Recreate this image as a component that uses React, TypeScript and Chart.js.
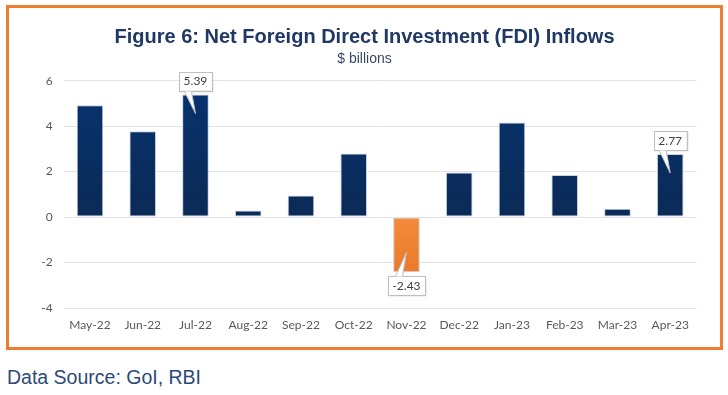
import React, { useEffect, useRef } from "react";
import { Chart, registerables } from "chart.js";

Chart.register(...registerables);

const months = ["May-22", "Jun-22", "Jul-22", "Aug-22", "Sep-22", "Oct-22", "Nov-22", "Dec-22", "Jan-23", "Feb-23", "Mar-23", "Apr-23"];
const fdiValues = [4.92, 3.78, 5.39, 0.29, 0.95, 2.8, -2.43, 1.96, 4.16, 1.85, 0.37, 2.77];
const yTickValues = [-4, -2, 0, 2, 4, 6];
const calloutIndices = [2, 6, 11];

const titleText = "Figure 6: Net Foreign Direct Investment (FDI) Inflows";
const subtitleText = "$ billions";
const sourceText = "Data Source: GoI, RBI";

const NAVY_TOP = "#07336F";
const NAVY_BOTTOM = "#0B2A56";
const ORANGE_TOP = "#F28A3C";
const ORANGE_BOTTOM = "#E8701E";

const calloutPlugin = {
  id: "callouts",
  afterDatasetsDraw(chart: any) {
    const ctx = chart.ctx as CanvasRenderingContext2D;
    const meta = chart.getDatasetMeta(0);
    ctx.save();
    ctx.font = "12px Lato, 'Open Sans', sans-serif";
    calloutIndices.forEach((i) => {
      const bar = meta.data[i];
      const v = fdiValues[i];
      const text = v.toFixed(2);
      const w = ctx.measureText(text).width + 9;
      const h = 19;
      const cx = bar.x;
      let boxTop: number, baseY: number, tipY: number;
      if (v >= 0) {
        boxTop = bar.y - 4 - h;
        baseY = boxTop + h;
        tipY = bar.y + 19;
      } else {
        boxTop = bar.y + 4;
        baseY = boxTop;
        tipY = bar.y - 20;
      }
      const left = cx - w / 2;
      ctx.save();
      ctx.shadowColor = "rgba(0,0,0,0.18)";
      ctx.shadowBlur = 2;
      ctx.shadowOffsetX = 1;
      ctx.shadowOffsetY = 1;
      ctx.fillStyle = "#ffffff";
      ctx.fillRect(left, boxTop, w, h);
      ctx.restore();
      ctx.strokeStyle = "#BFBFBF";
      ctx.lineWidth = 1;
      ctx.strokeRect(Math.round(left) + 0.5, Math.round(boxTop) + 0.5, Math.round(w), Math.round(h));
      const bl = cx - 11;
      const br = cx - 4;
      const by = Math.round(baseY) + 0.5;
      ctx.beginPath();
      ctx.moveTo(bl, by);
      ctx.lineTo(cx, tipY);
      ctx.lineTo(br, by);
      ctx.closePath();
      ctx.fillStyle = "#ffffff";
      ctx.fill();
      ctx.beginPath();
      ctx.moveTo(bl, by);
      ctx.lineTo(cx, tipY);
      ctx.lineTo(br, by);
      ctx.strokeStyle = "#BFBFBF";
      ctx.stroke();
      ctx.fillStyle = "#404040";
      ctx.textAlign = "center";
      ctx.textBaseline = "middle";
      ctx.fillText(text, cx, boxTop + h / 2 + 0.5);
    });
    ctx.restore();
  },
};

function barFill(c: any) {
  const chart = c.chart;
  const ca = chart.chartArea;
  const v = c.raw as number;
  if (!ca) return v < 0 ? ORANGE_TOP : NAVY_TOP;
  const y0 = chart.scales.y.getPixelForValue(0);
  const g = chart.ctx.createLinearGradient(0, v < 0 ? y0 : ca.top, 0, v < 0 ? ca.bottom : y0);
  if (v < 0) {
    g.addColorStop(0, ORANGE_TOP);
    g.addColorStop(1, ORANGE_BOTTOM);
  } else {
    g.addColorStop(0, NAVY_TOP);
    g.addColorStop(1, NAVY_BOTTOM);
  }
  return g;
}

export default function App() {
  const canvasRef = useRef<HTMLCanvasElement | null>(null);

  useEffect(() => {
    if (!canvasRef.current) return;
    const chart = new Chart(canvasRef.current, {
      type: "bar",
      data: {
        labels: months,
        datasets: [
          {
            data: fdiValues,
            backgroundColor: barFill as any,
            borderColor: "rgba(196,206,222,0.9)",
            borderWidth: 1,
            borderSkipped: false,
            barPercentage: 1,
            categoryPercentage: 0.505,
          },
        ],
      },
      options: {
        animation: false,
        responsive: false,
        maintainAspectRatio: false,
        layout: { padding: { left: 0, right: 0, top: 0, bottom: 0 } },
        plugins: {
          legend: { display: false },
          tooltip: { enabled: false },
          title: {
            display: true,
            text: titleText,
            color: "#1F3864",
            font: { family: "'Liberation Sans', Arial, sans-serif", size: 20, weight: "bold", lineHeight: 1.2 },
            padding: { top: 17.5, bottom: 1.7 },
          },
          subtitle: {
            display: true,
            text: subtitleText,
            color: "#3A4A66",
            font: { family: "'Liberation Sans', Arial, sans-serif", size: 14, lineHeight: 1.2 },
            padding: { top: 0, bottom: 12.7 },
          },
        },
        scales: {
          x: {
            grid: { display: false, drawTicks: false },
            border: { display: false },
            ticks: { color: "#595959", font: { family: "Lato, 'Open Sans', sans-serif", size: 12 }, padding: 10, maxRotation: 0 },
            afterFit: (s: any) => {
              s.height = 39;
            },
          },
          y: {
            min: -4,
            max: 6,
            grid: { color: "#E1E3EC", lineWidth: 1, drawTicks: false },
            border: { display: false },
            afterBuildTicks: (s: any) => {
              s.ticks = yTickValues.map((v) => ({ value: v }));
            },
            ticks: { color: "#595959", font: { family: "Lato, 'Open Sans', sans-serif", size: 12 }, padding: 11 },
            afterFit: (s: any) => {
              s.width = 54.6;
            },
          },
          yRight: {
            position: "right",
            display: true,
            grid: { display: false, drawTicks: false },
            border: { display: false },
            ticks: { display: false },
            afterFit: (s: any) => {
              s.width = 23.4;
            },
          },
        },
      },
      plugins: [calloutPlugin],
    });
    return () => chart.destroy();
  }, []);

  return (
    <div style={{ position: "absolute", left: 0, top: 0, width: 728, height: 395, background: "#ffffff" }}>
      <div
        style={{
          position: "absolute",
          left: 6,
          top: 5,
          width: 711,
          height: 339,
          border: "3px solid #ED7D31",
        }}
      >
        <canvas ref={canvasRef} width={711} height={339} style={{ display: "block", width: 711, height: 339 }} />
      </div>
      <div
        style={{
          position: "absolute",
          left: 7,
          top: 365,
          fontFamily: "'Liberation Sans', Arial, sans-serif",
          fontSize: 19.5,
          lineHeight: "24px",
          color: "#2C4A78",
          whiteSpace: "nowrap",
        }}
      >
        {sourceText}
      </div>
    </div>
  );
}
